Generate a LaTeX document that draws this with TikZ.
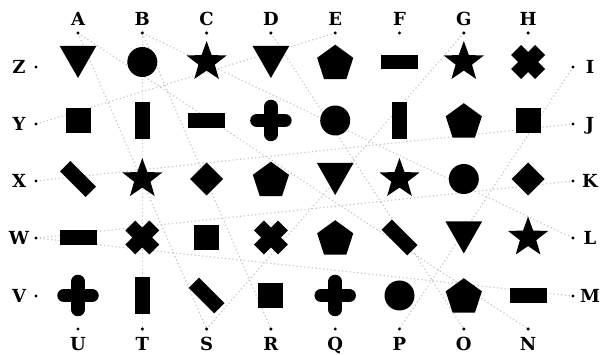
\documentclass[tikz,border=0pt]{standalone}
\usepackage{fontspec}
\setmainfont{DejaVu Serif}
\usetikzlibrary{backgrounds}
\definecolor{puInk}{HTML}{000000}
\definecolor{puTrace}{HTML}{C6C6C6}
\tikzset{
  pin/.style={circle,fill=puInk,inner sep=0pt,minimum size=3.4pt},
  letter/.style={anchor=base,inner sep=0pt,text=puInk,font=\bfseries\fontsize{18}{18}\selectfont},
  trace/.style={draw=puTrace,line width=1.2pt,dash pattern=on 1.2pt off 2.6pt},
  pics/tri/.style={code={\fill[puInk] (-18.3,-16) -- (18.3,-16) -- (0,16) -- cycle;}},
  pics/disc/.style={code={\fill[puInk] (0,0) circle (15);}},
  pics/star5/.style={code={\fill[puInk] (-90:21) -- (-54:8.6) -- (-18:21) -- (18:8.6) -- (54:21)
    -- (90:8.6) -- (126:21) -- (162:8.6) -- (198:21) -- (234:8.6) -- cycle;}},
  pics/pent/.style={code={\fill[puInk,shift={(0,1.7)}] (-90:19) -- (-18:19) -- (54:19) -- (126:19) -- (198:19) -- cycle;}},
  pics/hbar/.style={code={\fill[puInk] (-18.5,-7.3) rectangle (18.5,7.3);}},
  pics/vbar/.style={code={\fill[puInk] (-7.3,-18.5) rectangle (7.3,18.5);}},
  pics/sqr/.style={code={\fill[puInk] (-12.5,-12.5) rectangle (12.5,12.5);}},
  pics/diamond4/.style={code={\fill[puInk] (0,-16.5) -- (16.5,0) -- (0,16.5) -- (-16.5,0) -- cycle;}},
  pics/slash/.style={code={\draw[puInk,line width=14.5pt] (-12.8,-12.8) -- (12.8,12.8);}},
  pics/plus/.style={code={\draw[puInk,line width=13.5pt,line cap=round] (-14,0) -- (14,0) (0,-14) -- (0,14);}},
  pics/cross/.style={code={\draw[puInk,line width=14pt] (-12,-12) -- (12,12) (-12,12) -- (12,-12);}},
}
\begin{document}
\begin{tikzpicture}[x=1pt,y=-1pt]
  \useasboundingbox (0,0) rectangle (600,355);
  % letter pins round the grid
  \foreach \l [count=\c from 0] in {A,B,C,D,E,F,G,H} {
    \node[pin] (\l) at ({78+64.3*\c},33) {};
    \node[letter] (lbl\l) at ({78+64.3*\c},26) {\l};
  }
  \foreach \l [count=\c from 0] in {U,T,S,R,Q,P,O,N} {
    \node[pin] (\l) at ({78+64.3*\c},329) {};
    \node[letter] (lbl\l) at ({78+64.3*\c},351) {\l};
  }
  \foreach \l/\yy in {Z/67,Y/124,X/181,W/238,V/296} {
    \node[pin] (\l) at (36,\yy) {};
    \node[letter] (lbl\l) at (19,\yy+7) {\l};
  }
  \foreach \l/\yy in {I/67,J/124,K/181,L/238,M/296} {
    \node[pin] (\l) at (573,\yy) {};
    \node[letter] (lbl\l) at (590,\yy+7) {\l};
  }
  % shapes, row by row
  \foreach \yy/\list in {
      62/{tri,disc,star5,tri,pent,hbar,star5,cross},
      120.5/{sqr,vbar,hbar,plus,disc,vbar,pent,sqr},
      179/{slash,star5,diamond4,pent,tri,star5,disc,diamond4},
      237.5/{hbar,cross,sqr,cross,pent,slash,tri,star5},
      295.5/{plus,vbar,slash,sqr,plus,disc,pent,hbar}} {
    \foreach \s [count=\c from 0] in \list
      \pic at ({78+64.3*\c},\yy) {\s};
  }
  \begin{scope}[on background layer]
    \foreach \a/\b in {A/S,A/N,B/T,B/L,B/R,D/O,G/S,I/P,W/M,W/K,X/J,Y/E}
      \draw[trace] (\a.center) -- (\b.center);
  \end{scope}
\end{tikzpicture}
\end{document}
